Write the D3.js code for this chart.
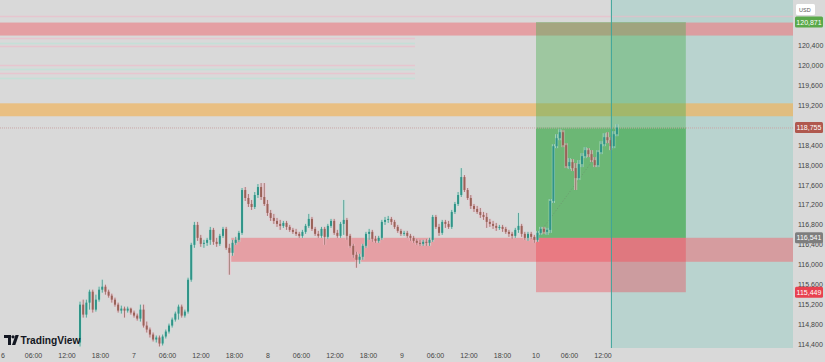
<!DOCTYPE html>
<html>
<head>
<meta charset="utf-8">
<script src="https://cdn.jsdelivr.net/npm/d3@7"></script>
<style>
  html, body { margin: 0; padding: 0; background: #d9d9d9; }
  svg { display: block; font-family: "Liberation Sans", Arial, sans-serif; }
</style>
</head>
<body>
<div id="chart"></div>
<script>
const fullwidth = 825;
const fullheight = 362;
const plotRight = 793;
const plotBottom = 348;

// BTCUSD candles (open of each bar = previous close)
const firstOpen = 114440;
const closes = [
  115200,115000,115240,115460,115100,115300,115500,115560,115460,115380,
  115300,115200,115080,115120,115080,115120,115040,114980,114920,115100,
  114780,114700,114600,114500,114540,114420,114560,114660,114780,114900,
  115020,115160,114980,115060,115700,116400,116800,116540,116420,116440,
  116500,116700,116460,116420,116580,116720,116340,116240,116440,116500,
  116640,117500,117340,117220,117160,117400,117560,117360,117220,117040,
  116940,116880,116820,116780,116840,116760,116700,116660,116620,116580,
  116660,116780,116920,116720,116620,116580,116720,116560,116780,116880,
  116640,116580,116820,116900,116580,116380,116200,116100,116160,116380,
  116620,116660,116520,116480,116540,116860,116900,116920,116860,116760,
  116680,116620,116640,116580,116540,116480,116440,116420,116460,116440,
  116500,116960,116760,116640,116860,116820,116760,117060,117220,117400,
  117760,117500,117340,117180,117120,117060,117000,116960,116860,116820,
  116780,116740,116760,116720,116660,116620,116580,116700,116780,116620,
  116540,116620,116560,116500,116640,116720,116660,116700,117280,118380,
  118540,118660,118400,117980,118060,117940,117740,118020,118180,118300,
  118220,118100,118000,118260,118420,118560,118500,118380,118620,118755
];
const highs = [
  115260,115300,115300,115500,115500,115400,115560,115700,115600,115500,
  115420,115340,115240,115180,115160,115160,115140,115080,115020,115200,
  115200,114860,114740,114640,114580,114580,114600,114700,114820,114940,
  115060,115200,115200,115100,115740,116440,116860,116860,116600,116500,
  116540,116760,116740,116540,116620,116760,116760,116420,116500,116560,
  116680,117540,117560,117420,117300,117460,117620,117640,117640,117300,
  117100,117020,116940,116900,116880,116880,116800,116740,116720,116660,
  116700,116820,117020,116960,116760,116680,116760,116760,116820,116920,
  116920,116700,116860,117300,116940,116620,116420,116260,116220,116420,
  116660,116720,116700,116580,116580,116900,116960,116980,116960,116900,
  116800,116720,116680,116680,116620,116580,116520,116500,116500,116520,
  116540,117000,117000,116820,116900,116900,116880,117100,117260,117460,
  117940,117800,117540,117400,117220,117180,117140,117060,117040,116920,
  116880,116840,116800,116800,116760,116700,116660,116740,117040,116820,
  116660,116660,116660,116600,116680,116760,116760,116740,117320,118420,
  118620,118720,118700,118440,118140,118120,118040,118100,118240,118360,
  118340,118300,118160,118300,118480,118640,118660,118560,118680,118820
];
const lows = [
  114360,114940,114940,115100,115040,115060,115260,115440,115400,115340,
  115240,115160,115040,115020,114940,115040,115000,114940,114880,114860,
  114740,114640,114540,114460,114440,114360,114380,114520,114620,114740,
  114860,114900,114940,114940,115020,115660,116340,116480,116360,116340,
  116380,116400,116400,116360,116380,116540,116300,115800,116180,116400,
  116460,116600,117280,117160,117100,117120,117340,117300,117180,116980,
  116880,116820,116760,116700,116740,116700,116660,116620,116580,116540,
  116540,116620,116740,116680,116580,116540,116540,116400,116520,116740,
  116600,116540,116540,116600,116500,116340,116140,115940,116020,116100,
  116340,116500,116460,116440,116440,116500,116800,116840,116800,116720,
  116640,116580,116580,116540,116480,116440,116400,116380,116380,116380,
  116380,116460,116720,116580,116600,116740,116720,116720,117020,117180,
  117360,117460,117300,117120,117060,117020,116940,116900,116740,116760,
  116720,116680,116700,116660,116620,116560,116520,116540,116640,116560,
  116500,116480,116520,116440,116460,116600,116620,116600,116640,117240,
  118340,118500,118360,117940,117920,117880,117500,117700,117960,118140,
  118160,118060,117960,117960,118220,118380,118440,118300,118340,118580
];

// levels and zones
const targetPrice = 120871;
const entryPrice = 116541;
const stopPrice = 115449;
const lastPrice = 118755;
const topBand = [120600, 120860];
const orangeBand = [118980, 119240];
const demandBox = [116060, 116541];
const faintLevels = [
  { price: 120980, color: "#f4b6c8" },
  { price: 120540, color: "#f4b6c8" },
  { price: 120440, color: "#b4e6d6" },
  { price: 120380, color: "#f4b6c8" },
  { price: 120000, color: "#f4b6c8" },
  { price: 119920, color: "#b4e6d6" },
  { price: 119840, color: "#f4b6c8" },
  { price: 119740, color: "#b4e6d6" }
];
const dayLabels = ["6", "7", "8", "9", "10"];
const hourLabels = ["06:00", "12:00", "18:00"];

const x = d3.scaleTime()
  .domain([new Date(2025, 7, 6), new Date(2025, 7, 11)])
  .range([0, 670]);
const y = d3.scaleLinear()
  .domain([114400, 120400])
  .range([344.5, 45.5]);

const t0 = new Date(2025, 7, 6, 14, 20);
const t1 = new Date(2025, 7, 10, 14, 30);
const step = (t1 - t0) / (closes.length - 1);
const candles = closes.map((c, i) => ({
  t: new Date(+t0 + i * step),
  o: i ? closes[i - 1] : firstOpen,
  h: highs[i],
  l: lows[i],
  c
}));

const svg = d3.select("#chart")
  .append("svg")
  .attr("width", fullwidth)
  .attr("height", fullheight);

svg.append("rect").attr("width", fullwidth).attr("height", fullheight).attr("fill", "#d9d9d9");

const plot = svg.append("g");

// highlighted range right of the vertical line
const rangeStart = x(new Date(2025, 7, 10, 13, 25));
plot.append("rect")
  .attr("x", rangeStart).attr("y", 0)
  .attr("width", plotRight - rangeStart).attr("height", plotBottom)
  .attr("fill", "#b9d3cf");

// faint lines top left
plot.selectAll(".faint")
  .data(faintLevels)
  .enter().append("line")
  .attr("x1", 0).attr("x2", (d, i) => i === 0 ? plotRight : 415)
  .attr("y1", d => y(d.price)).attr("y2", d => y(d.price))
  .attr("stroke", d => d.color)
  .attr("stroke-width", 1.5)
  .attr("opacity", 0.55);

// horizontal bands
plot.append("rect")
  .attr("x", 0).attr("y", y(topBand[1]))
  .attr("width", plotRight).attr("height", y(topBand[0]) - y(topBand[1]))
  .attr("fill", "#e8888e").attr("opacity", 0.72);
plot.append("rect")
  .attr("x", 0).attr("y", y(orangeBand[1]))
  .attr("width", plotRight).attr("height", y(orangeBand[0]) - y(orangeBand[1]))
  .attr("fill", "#eeb460").attr("opacity", 0.72);

// demand box
const boxStart = x(new Date(2025, 7, 7, 17, 25));
plot.append("rect")
  .attr("x", boxStart).attr("y", y(demandBox[1]))
  .attr("width", plotRight - boxStart).attr("height", y(demandBox[0]) - y(demandBox[1]))
  .attr("fill", "#ef6f79").attr("opacity", 0.55);

// long position tool
const posStart = x(new Date(2025, 7, 10));
const posEnd = x(new Date(2025, 7, 11, 2, 50));
plot.append("rect")
  .attr("x", posStart).attr("y", y(targetPrice))
  .attr("width", posEnd - posStart).attr("height", y(entryPrice) - y(targetPrice))
  .attr("fill", "#4caf50").attr("opacity", 0.42);
plot.append("rect")
  .attr("x", posStart).attr("y", y(lastPrice))
  .attr("width", posEnd - posStart).attr("height", y(entryPrice) - y(lastPrice))
  .attr("fill", "#3aa84a").attr("opacity", 0.5);
plot.append("rect")
  .attr("x", posStart).attr("y", y(entryPrice))
  .attr("width", posEnd - posStart).attr("height", y(stopPrice) - y(entryPrice))
  .attr("fill", "#f23645").attr("opacity", 0.35);
plot.append("line")
  .attr("x1", posStart).attr("x2", x(t1))
  .attr("y1", y(entryPrice)).attr("y2", y(lastPrice))
  .attr("stroke", "#6f8f70").attr("stroke-dasharray", "1,2").attr("opacity", 0.7);

// last price line
plot.append("line")
  .attr("x1", 0).attr("x2", plotRight)
  .attr("y1", y(lastPrice) + 0.5).attr("y2", y(lastPrice) + 0.5)
  .attr("stroke", "#c9a6a6").attr("stroke-dasharray", "1,1");

// candles
const bar = plot.selectAll(".candle")
  .data(candles)
  .enter().append("g")
  .attr("class", "candle");
const up = d => d.c >= d.o;
bar.append("rect")
  .attr("x", d => x(d.t) - 1.6).attr("width", 3.2)
  .attr("y", d => y(d.h)).attr("height", d => Math.max(1, y(d.l) - y(d.h)))
  .attr("fill", d => up(d) ? "#bfe6dc" : "#f2c0cc")
  .attr("opacity", 0.6);
bar.append("line")
  .attr("x1", d => x(d.t)).attr("x2", d => x(d.t))
  .attr("y1", d => y(d.h)).attr("y2", d => y(d.l))
  .attr("stroke", d => up(d) ? "#3d8f87" : "#8f6b62")
  .attr("stroke-width", 0.8);
bar.append("rect")
  .attr("x", d => x(d.t) - 1).attr("width", 2)
  .attr("y", d => y(Math.max(d.o, d.c)))
  .attr("height", d => Math.max(1, Math.abs(y(d.o) - y(d.c))))
  .attr("fill", d => up(d) ? "#2f9488" : "#9a6258");

// vertical line
plot.append("line")
  .attr("x1", rangeStart + 0.5).attr("x2", rangeStart + 0.5)
  .attr("y1", 0).attr("y2", plotBottom)
  .attr("stroke", "#3ea59b").attr("stroke-width", 1);

// price axis
const priceLabels = [
  { price: targetPrice, fill: "#5aa94a" },
  { price: lastPrice, fill: "#b0584e" },
  { price: entryPrice, fill: "#7e7e7e" },
  { price: stopPrice, fill: "#e8414f" }
];
const fmt = d3.format(",");
const ticks = d3.range(114400, 120401, 400)
  .filter(v => priceLabels.every(p => Math.abs(y(p.price) - y(v)) >= 6));
svg.append("g").selectAll("text")
  .data(ticks)
  .enter().append("text")
  .attr("x", 798).attr("y", d => y(d) + 2.5)
  .attr("font-size", 7).attr("fill", "#444")
  .text(d => fmt(d));

const pl = svg.append("g").selectAll("g")
  .data(priceLabels)
  .enter().append("g");
pl.append("rect")
  .attr("x", 795).attr("y", d => y(d.price) - 5.5)
  .attr("width", 28).attr("height", 11).attr("rx", 1.5)
  .attr("fill", d => d.fill);
pl.append("text")
  .attr("x", 809).attr("y", d => y(d.price) + 2.5)
  .attr("text-anchor", "middle")
  .attr("font-size", 7).attr("fill", "#fff")
  .text(d => fmt(d.price));

svg.append("rect").attr("x", 796).attr("y", 4).attr("width", 19).attr("height", 11)
  .attr("rx", 1.5).attr("fill", "#fff");
svg.append("text").attr("x", 799).attr("y", 11.5).attr("font-size", 5.5).attr("fill", "#555").text("USD");

// time axis
const timeTicks = [];
for (let d = 6; d <= 10; d++) {
  timeTicks.push({ t: new Date(2025, 7, d), label: dayLabels[d - 6] });
  hourLabels.forEach((h, k) => {
    if (d < 10 || k < 2) timeTicks.push({ t: new Date(2025, 7, d, (k + 1) * 6), label: h });
  });
}
svg.append("g").selectAll("text")
  .data(timeTicks)
  .enter().append("text")
  .attr("x", d => Math.max(1, x(d.t)))
  .attr("y", 357.5)
  .attr("text-anchor", d => x(d.t) < 5 ? "start" : "middle")
  .attr("font-size", 7).attr("fill", "#444")
  .text(d => d.label);

// TradingView mark
const logo = svg.append("g").attr("fill", "#131722");
logo.append("path").attr("d", "M4,335 H11 V345 H8 V338 H4 Z");
logo.append("circle").attr("cx", 13).attr("cy", 336.8).attr("r", 1.6);
logo.append("path").attr("d", "M12,345 L15.5,335 H18.8 L15.3,345 Z");
logo.append("text").attr("x", 20.5).attr("y", 344.3)
  .attr("font-size", 10.2).attr("font-weight", "bold")
  .attr("font-family", "'Liberation Sans', Arial, sans-serif")
  .text("TradingView");
</script>
</body>
</html>
